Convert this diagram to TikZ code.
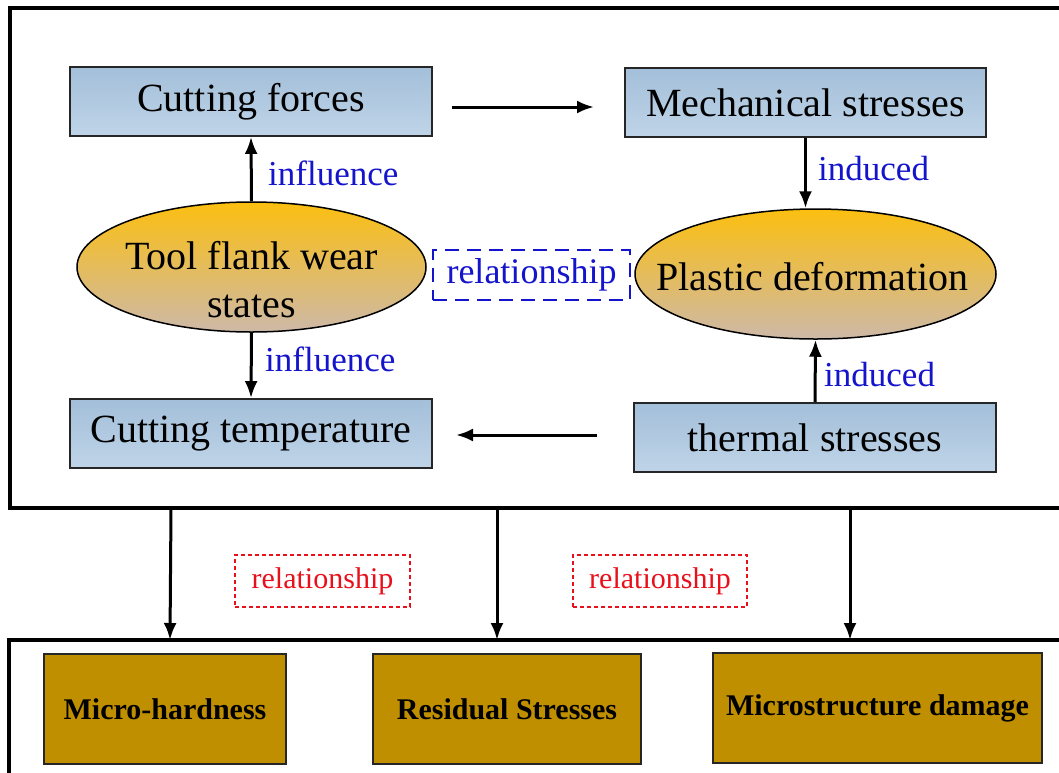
\documentclass[tikz,border=0pt]{standalone}
\usepackage{fontspec}
\setmainfont{Liberation Serif}
\usetikzlibrary{arrows.meta,shapes.geometric}
\definecolor{boxtop}{HTML}{A3BFD9}
\definecolor{boxbot}{HTML}{BFD4E8}
\definecolor{elltop}{HTML}{FCBF10}
\definecolor{ellbot}{HTML}{CDB9A8}
\definecolor{goldbox}{HTML}{BF8F00}
\definecolor{lblue}{HTML}{1414CC}
\definecolor{lred}{HTML}{E8101A}
\tikzset{
  bluebox/.style={draw=black!85, line width=1.8pt, top color=boxtop, bottom color=boxbot,
    inner sep=0pt, minimum width=362pt, minimum height=69pt, font=\fontsize{40}{48}\selectfont},
  ellnode/.style={ellipse, draw=black, line width=1.5pt, top color=elltop, bottom color=ellbot,
    inner sep=0pt, minimum height=130pt},
  elltext/.style={inner sep=0pt, font=\fontsize{40}{48}\selectfont, align=center},
  goldnode/.style={draw=black!85, line width=1.6pt, fill=goldbox, inner sep=0pt,
    minimum height=110pt, font=\fontsize{30}{36}\selectfont\bfseries},
  frame/.style={draw=black, line width=4pt},
  arr/.style={line width=3pt, -{Latex[length=17pt,width=13pt]}},
  bluelabel/.style={text=lblue, inner sep=0pt, font=\fontsize{35}{42}\selectfont},
  bluerel/.style={draw=lblue, line width=2pt, dash pattern=on 14pt off 8pt, text=lblue,
    inner sep=0pt, minimum width=197pt, minimum height=50pt, font=\fontsize{36}{43}\selectfont},
  redrel/.style={draw=lred, line width=1.3pt, dash pattern=on 4pt off 3pt, text=lred,
    inner sep=0pt, minimum height=52pt, font=\fontsize{30}{36}\selectfont},
}
\begin{document}
\begin{tikzpicture}[x=1pt,y=-1pt]
\useasboundingbox (0,0) rectangle (1059,772);
\clip (0,0) rectangle (1059,772);
\fill[white] (0,0) rectangle (1059,772);
% frames
\draw[frame] (10,8) rectangle (1080,508);
\draw[frame, line width=3.6pt] (9,640) rectangle (1080,800);
% top nodes
\node[bluebox] (cf) at (251,101.5) {Cutting forces};
\node[bluebox, minimum width=361pt] (ms) at (805.5,102.5) {Mechanical stresses};
\node[bluebox] (ct) at (251,433.5) {Cutting temperature};
\node[bluebox] (ts) at (815,437.5) {thermal stresses};
\node[ellnode, minimum width=349pt, label={[elltext, yshift=-13pt]center:{Tool flank wear\\states}}] (tfw) at (251.5,267) {};
\node[ellnode, minimum width=361pt, label={[elltext, xshift=-3pt, yshift=-3pt]center:{Plastic deformation}}] (pd) at (815.5,274) {};
\node[bluerel] (rel) at (531.5,275) {relationship};
% vertical arrows
\draw[arr] (tfw.north) -- (cf.south);
\draw[arr] (tfw.south) -- (ct.north);
\draw[arr] (ms.south) -- (ms.south |- pd.north);
\draw[arr] (ts.north) -- (pd.south);
% horizontal arrows
\coordinate (a1) at (452,107);
\coordinate (a2) at (594,107);
\coordinate (b1) at (597,435);
\coordinate (b2) at (456,435);
\draw[arr] (a1) -- (a2);
\draw[arr] (b1) -- (b2);
% labels
\node[bluelabel, anchor=base west] (l1) at (268,185) {influence};
\node[bluelabel, anchor=base west] (l2) at (265,371) {influence};
\node[bluelabel, anchor=base west] (l3) at (818,180) {induced};
\node[bluelabel, anchor=base west] (l4) at (824,386) {induced};
% bottom
\node[redrel, minimum width=175pt] (r1) at (322.5,581) {relationship};
\node[redrel, minimum width=174pt] (r2) at (660,581) {relationship};
\node[goldnode, minimum width=242pt] (mh) at (165,709) {Micro-hardness};
\node[goldnode, minimum width=268pt] (rs) at (507,709) {Residual Stresses};
\node[goldnode, minimum width=329pt] (md) at (877.5,708) {Microstructure damage};
\coordinate (t1) at (171,508);
\coordinate (t2) at (497,508);
\coordinate (t3) at (850,508);
\coordinate (u1) at (170,640);
\coordinate (u2) at (497,640);
\coordinate (u3) at (850,640);
\draw[arr] (t1) -- (u1);
\draw[arr] (t2) -- (u2);
\draw[arr] (t3) -- (u3);
\end{tikzpicture}
\end{document}
